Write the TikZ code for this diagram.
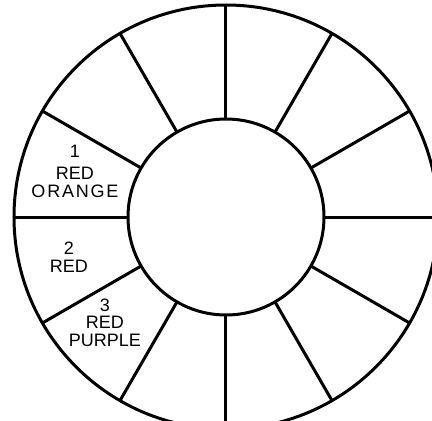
\documentclass[tikz,border=0pt]{standalone}
\usepackage{fontspec}
\newfontfamily\wheelfont{Liberation Sans}

\begin{document}
\begin{tikzpicture}[
  x=1pt, y=1pt,
  ring/.style={draw, circle, line width=3pt, outer sep=0pt, inner sep=0pt},
  spoke/.style={line width=3pt},
  hue/.style={anchor=north, align=center, font=\wheelfont\fontsize{18}{18}\selectfont, inner sep=0pt}
]
\useasboundingbox (-226,-204) rectangle (206,217);
\node[ring, minimum size=424pt] (rim) at (0,0) {};
\node[ring, minimum size=196pt] (hub) at (0,0) {};
\foreach \a in {0,30,...,330}
  \draw[spoke] (hub.\a) -- (rim.\a);
\node[hue] (redorange) at (-151,72) {1\\[4pt]RED\\{\addfontfeature{LetterSpace=10}ORANGE}};
\node[hue] (red) at (-157,-25) {2\\RED};
\node[hue] (redpurple) at (-121,-82) {3\\[-1pt]RED\\PURPLE};
\end{tikzpicture}
\end{document}
